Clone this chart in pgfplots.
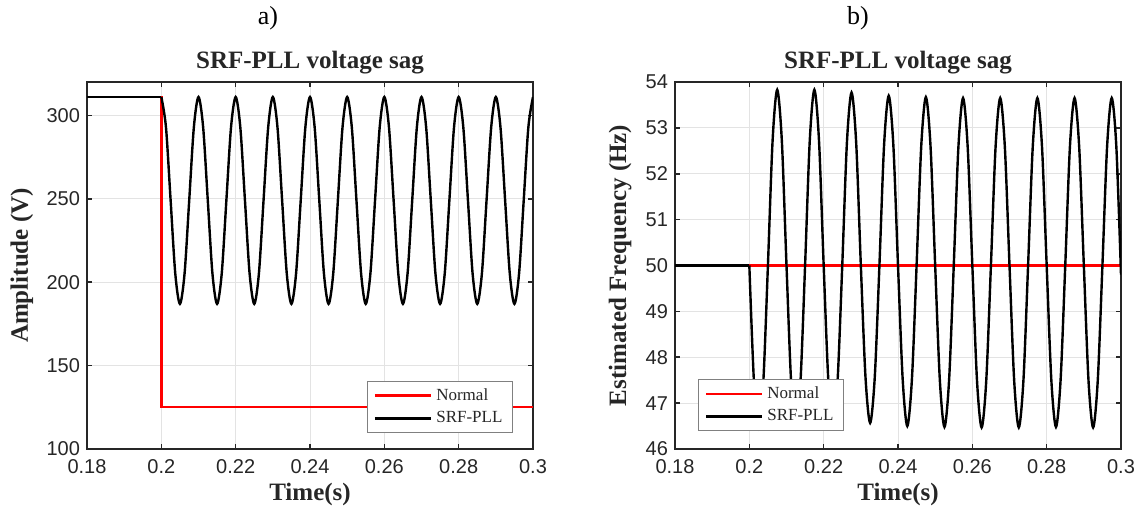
\documentclass[border=0pt]{standalone}
\usepackage{fontspec}
\setmainfont{Liberation Serif}
\newfontfamily\ticksf{Liberation Sans}
\usepackage{pgfplots}
\pgfplotsset{compat=1.18}
\definecolor{axgray}{HTML}{262626}
\definecolor{gridgray}{HTML}{E3E3E3}
\definecolor{legframe}{HTML}{808080}

\pgfplotsset{
 mystyle/.style={
  scale only axis, width=223pt, height=183.5pt,
  xmin=0.18, xmax=0.3,
  xtick={0.18,0.2,0.22,0.24,0.26,0.28,0.3},
  xticklabels={0.18,0.2,0.22,0.24,0.26,0.28,0.3},
  tick align=inside,
  major tick length=2.5pt,
  grid=major,
  grid style={gridgray, line width=0.5pt},
  axis line style={axgray, line width=1pt},
  tick style={axgray, line width=0.8pt},
  /pgf/number format/assume math mode=true,
  tick label style={font=\ticksf\fontsize{10}{11}\selectfont, text=axgray},
  xticklabel style={yshift=-1.5pt},
  label style={font=\bfseries\fontsize{12.5}{14}\selectfont, text=axgray},
  every axis title shift=0pt,
  title style={font=\bfseries\fontsize{12.5}{14}\selectfont, text=axgray, at={(0.5,1.054)}, anchor=center, yshift=0pt},
  xlabel style={at={(axis description cs:0.5,-0.125)}, anchor=center},
  legend style={draw=legframe, line width=0.5pt, fill=white, font=\fontsize{8.5}{10}\selectfont, text=axgray, inner xsep=3pt, inner ysep=1.5pt, row sep=0pt, cells={anchor=west}},
  legend image code/.code={\draw[#1, line width=1.3pt] (0pt,0pt) -- (28pt,0pt);},
  every axis plot/.append style={line width=1.2pt},
 }
}

\pgfplotstableread{
t y
0.2 311
0.20125 292.84
0.2025 249
0.20375 205.16
0.205 187
0.20625 205.16
0.2075 249
0.20875 292.84
0.21 311
0.21125 292.84
0.2125 249
0.21375 205.16
0.215 187
0.21625 205.16
0.2175 249
0.21875 292.84
0.22 311
0.22125 292.84
0.2225 249
0.22375 205.16
0.225 187
0.22625 205.16
0.2275 249
0.22875 292.84
0.23 311
0.23125 292.84
0.2325 249
0.23375 205.16
0.235 187
0.23625 205.16
0.2375 249
0.23875 292.84
0.24 311
0.24125 292.84
0.2425 249
0.24375 205.16
0.245 187
0.24625 205.16
0.2475 249
0.24875 292.84
0.25 311
0.25125 292.84
0.2525 249
0.25375 205.16
0.255 187
0.25625 205.16
0.2575 249
0.25875 292.84
0.26 311
0.26125 292.84
0.2625 249
0.26375 205.16
0.265 187
0.26625 205.16
0.2675 249
0.26875 292.84
0.27 311
0.27125 292.84
0.2725 249
0.27375 205.16
0.275 187
0.27625 205.16
0.2775 249
0.27875 292.84
0.28 311
0.28125 292.84
0.2825 249
0.28375 205.16
0.285 187
0.28625 205.16
0.2875 249
0.28875 292.84
0.29 311
0.29125 292.84
0.2925 249
0.29375 205.16
0.295 187
0.29625 205.16
0.2975 249
0.29875 292.84
0.3 311
}\ampdata

\pgfplotstableread{
t y
0.2 50
0.20125 47.45
0.2025 46.45
0.20375 47.45
0.205 50
0.20625 52.71
0.2075 53.83
0.20875 52.71
0.21 50
0.21125 47.45
0.2125 46.45
0.21375 47.45
0.215 50
0.21625 52.71
0.2175 53.83
0.21875 52.71
0.22 50
0.22125 47.5
0.2225 46.5
0.22375 47.5
0.225 50
0.22625 52.67
0.2275 53.77
0.22875 52.67
0.23 50
0.23125 47.57
0.2325 46.57
0.23375 47.57
0.235 50
0.23625 52.62
0.2375 53.70
0.23875 52.62
0.24 50
0.24125 47.53
0.2425 46.50
0.24375 47.53
0.245 50
0.24625 52.60
0.2475 53.67
0.24875 52.60
0.25 50
0.25125 47.51
0.2525 46.48
0.25375 47.51
0.255 50
0.25625 52.58
0.2575 53.65
0.25875 52.58
0.26 50
0.26125 47.50
0.2625 46.47
0.26375 47.50
0.265 50
0.26625 52.58
0.2675 53.65
0.26875 52.58
0.27 50
0.27125 47.50
0.2725 46.47
0.27375 47.50
0.275 50
0.27625 52.58
0.2775 53.65
0.27875 52.58
0.28 50
0.28125 47.51
0.2825 46.48
0.28375 47.51
0.285 50
0.28625 52.58
0.2875 53.65
0.28875 52.58
0.29 50
0.29125 47.50
0.2925 46.47
0.29375 47.50
0.295 50
0.29625 52.58
0.2975 53.65
0.29875 52.58
0.3 49.8
}\freqdata

\begin{document}
\begin{tikzpicture}
\useasboundingbox (0,0) rectangle (570pt,257pt);
\node[font=\fontsize{13}{15}\selectfont, text=black] at (134pt,248pt) {a)};
\node[font=\fontsize{13}{15}\selectfont, text=black] at (429pt,248pt) {b)};

\begin{axis}[mystyle,
  at={(43.5pt,32.5pt)}, anchor=south west,
  ymin=100, ymax=320,
  ytick={100,150,200,250,300},
  title={SRF-PLL voltage sag},
  xlabel={Time(s)},
  ylabel={Amplitude (V)},
  ylabel style={at={(axis description cs:-0.146,0.5)}, anchor=center},
  legend style={at={(0.955,0.044)}, anchor=south east},
]
\addplot[red] coordinates {(0.18,311) (0.2,311) (0.2,125) (0.3,125)};
\addlegendentry{Normal}
\addplot[black] coordinates {(0.18,311) (0.2,311)};
\addlegendentry{SRF-PLL}
\addplot[black, smooth, forget plot] table[x=t,y=y] {\ampdata};
\end{axis}

\begin{axis}[mystyle,
  at={(337.5pt,32.5pt)}, anchor=south west,
  ymin=46, ymax=54,
  ytick={46,47,48,49,50,51,52,53,54},
  title={SRF-PLL voltage sag},
  xlabel={Time(s)},
  ylabel={Estimated Frequency (Hz)},
  ylabel style={at={(axis description cs:-0.123,0.5)}, anchor=center},
  legend style={at={(0.052,0.049)}, anchor=south west},
]
\addplot[red] coordinates {(0.18,50) (0.3,50)};
\addlegendentry{Normal}
\addplot[black] coordinates {(0.18,50) (0.2,50)};
\addlegendentry{SRF-PLL}
\addplot[black, smooth, forget plot] table[x=t,y=y] {\freqdata};
\end{axis}
\end{tikzpicture}
\end{document}
